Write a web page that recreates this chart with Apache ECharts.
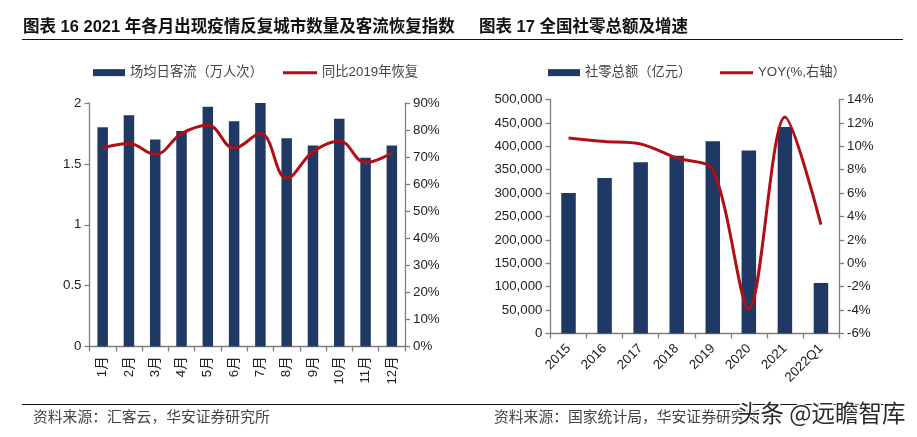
<!DOCTYPE html>
<html>
<head>
<meta charset="utf-8">
<style>html,body{margin:0;padding:0;background:#fff}#main{width:917px;height:437px}</style>
<script src="https://cdn.jsdelivr.net/npm/echarts@6/dist/echarts.min.js"></script>
</head>
<body>
<div id="main"></div>
<script>
const months = ["1月", "2月", "3月", "4月", "5月", "6月", "7月", "8月", "9月", "10月", "11月", "12月"]
const flow = [1.8, 1.9, 1.7, 1.77, 1.97, 1.85, 2.0, 1.71, 1.65, 1.87, 1.55, 1.65]
const recovery = [73.3, 75, 71, 78.7, 81.8, 73.3, 78.7, 62.2, 72, 76, 68, 71.5]
const years = ["2015", "2016", "2017", "2018", "2019", "2020", "2021", "2022Q1"]
const retail = [300000, 332000, 366000, 380000, 411000, 391000, 441000, 108000]
const yoy = [10.7, 10.4, 10.2, 9.0, 8.0, -3.9, 12.5, 3.3]

const SANS = '"Liberation Sans", Arial, sans-serif'
const CJK = '"Noto Sans CJK SC", sans-serif'
const NAVY = "#1f3864"
const RED = "#b00f16"
const GREY = "#7f7f7f"
const axisLine = { show: true, lineStyle: { color: GREY, width: 1.3 } }
const axisTick = { show: true, length: 5, lineStyle: { color: GREY, width: 1.3 } }
const tickLabel = { color: "#222", fontFamily: SANS, fontSize: 13.3 }

function valueAxis(gridIndex, position, min, max, interval, formatter) {
    return {
        type: "value", gridIndex, position, min, max, interval,
        axisLine, axisTick, splitLine: { show: false },
        axisLabel: { ...tickLabel, margin: 8, formatter }
    }
}

function catAxis(gridIndex, data, rotate, margin) {
    return {
        type: "category", gridIndex, data,
        axisLine: { ...axisLine, onZero: false }, axisTick,
        axisLabel: { ...tickLabel, rotate, margin, interval: 0, fontFamily: SANS + ", " + CJK }
    }
}

function text(x, y, str, size, weight, color) {
    return { type: "text", x, y, style: { text: str, fontSize: size, fontWeight: weight, fill: color, fontFamily: SANS + ", " + CJK, textVerticalAlign: "middle" } }
}

function rule(x1, x2, y) {
    return { type: "line", shape: { x1, y1: y, x2, y2: y }, style: { stroke: "#111", lineWidth: 1 } }
}

const legendText = { color: "#444", fontFamily: SANS + ", " + CJK, fontSize: 13.3 }
// both kinds of key are plain rects, the line key is just a thin one
function legend(name, left, width, height) {
    return { data: [{ name, icon: "rect" }], left, top: 66, itemWidth: width, itemHeight: height, padding: 0, textStyle: legendText, itemGap: 0 }
}

const option = {
    animation: false,
    backgroundColor: "#fff",
    grid: [
        { left: 89.5, top: 103, width: 315.5, height: 243.5 },
        { left: 550.5, top: 99.5, width: 288.5, height: 234 }
    ],
    legend: [
        legend("场均日客流（万人次）", 93, 32, 7),
        legend("同比2019年恢复", 283, 34, 3),
        legend("社零总额（亿元）", 548, 32, 7),
        legend("YOY(%,右轴）", 720, 33, 3)
    ],
    xAxis: [catAxis(0, months, 90, 10), catAxis(1, years, 45, 13)],
    yAxis: [
        valueAxis(0, "left", 0, 2, 0.5),
        valueAxis(0, "right", 0, 90, 10, "{value}%"),
        valueAxis(1, "left", 0, 500000, 50000, v => v.toLocaleString("en-US")),
        valueAxis(1, "right", -6, 14, 2, "{value}%")
    ],
    series: [
        { name: "场均日客流（万人次）", type: "bar", xAxisIndex: 0, yAxisIndex: 0, data: flow, barWidth: 10.5, itemStyle: { color: NAVY } },
        { name: "同比2019年恢复", type: "line", xAxisIndex: 0, yAxisIndex: 1, data: recovery, smooth: 0.4, symbol: "none", lineStyle: { color: RED, width: 3 }, itemStyle: { color: RED } },
        { name: "社零总额（亿元）", type: "bar", xAxisIndex: 1, yAxisIndex: 2, data: retail, barWidth: 14.5, itemStyle: { color: NAVY } },
        { name: "YOY(%,右轴）", type: "line", xAxisIndex: 1, yAxisIndex: 3, data: yoy, smooth: 0.3, symbol: "none", lineStyle: { color: RED, width: 3 }, itemStyle: { color: RED } }
    ],
    graphic: [
        text(23, 27, "图表 16 2021 年各月出现疫情反复城市数量及客流恢复指数", 16.5, "bold", "#111"),
        text(479, 27, "图表 17 全国社零总额及增速", 16.5, "bold", "#111"),
        rule(22, 460, 39.5),
        rule(460, 903, 39.5),
        rule(22, 460, 404.5),
        rule(460, 903, 404.5),
        text(33, 418, "资料来源：汇客云，华安证券研究所", 14.8, "normal", "#444"),
        text(494, 418, "资料来源：国家统计局，华安证券研究所", 14.8, "normal", "#444"),
        {
            type: "text", x: 737, y: 413, z: 10,
            style: { text: "头条 @远瞻智库", fontSize: 23.5, fill: "#2b2b2b", stroke: "#fff", lineWidth: 2.5, fontFamily: CJK, textVerticalAlign: "middle" }
        }
    ]
}

echarts.init(document.getElementById("main"), null, { renderer: "canvas" }).setOption(option)
</script>
</body>
</html>
